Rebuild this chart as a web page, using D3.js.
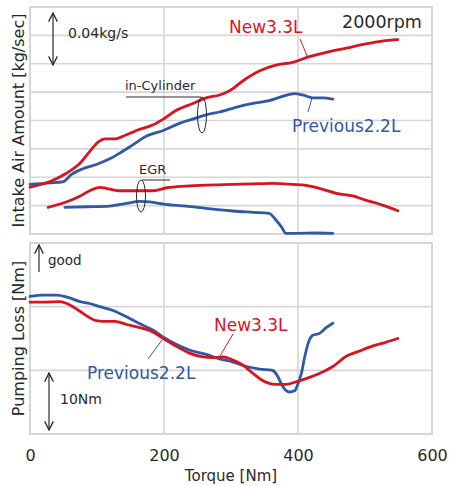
<!DOCTYPE html>
<html>
<head>
<meta charset="utf-8">
<script src="https://cdn.jsdelivr.net/npm/d3@7"></script>
<style>
	body { margin: 0; background: #fff; }
	svg { display: block; font-family: "DejaVu Sans", "Noto Sans", sans-serif; }
</style>
</head>
<body>
<div id="chart"></div>
<script>
// torque [Nm] / intake air [g/s] (grid step 20 g/s = 0.02 kg/s)
const newCylT = [0, 30, 55, 75, 89, 102, 112, 127, 144, 159, 184, 199, 218, 243, 263, 283, 298, 318, 343, 367, 392, 417, 442, 472, 501, 526, 549];
const newCylV = [33, 37, 43, 50, 58, 65, 67, 67, 70, 73, 77, 81, 87, 92, 96, 98, 101, 108, 115, 119, 121, 125, 128, 131, 134, 136, 137];

const prevCylT = [0, 30, 50, 62, 79, 99, 119, 134, 154, 174, 199, 223, 243, 263, 283, 313, 333, 357, 377, 395, 407, 422, 437, 452];
const prevCylV = [35, 36, 37, 42, 46, 49, 53, 57, 63, 69, 73, 78, 81, 84, 86, 90, 92, 94, 97, 99, 98, 96, 96, 95];

const newEgrT = [27, 55, 75, 89, 104, 114, 132, 154, 184, 204, 233, 263, 303, 333, 362, 392, 412, 432, 457, 482, 501, 526, 549];
const newEgrV = [18.8, 22.7, 26.8, 30.5, 32.9, 32.2, 30.5, 30.5, 30.5, 32.6, 33.8, 34.5, 35, 35.4, 35.7, 35, 34.3, 32.2, 28.7, 26.8, 23.9, 20.4, 16.4];

const prevEgrT = [52, 84, 119, 144, 164, 179, 199, 233, 263, 303, 333, 357, 367, 375, 382, 397, 427, 452];
const prevEgrV = [18.8, 19.2, 19.7, 21.6, 23, 22.7, 21.1, 19.7, 18.1, 16.2, 15.3, 14.6, 9.9, 5.2, 0.5, 0.5, 0.7, 0.5];

// pumping loss [Nm], relative scale
const prevPumpT = [0, 20, 40, 55, 75, 89, 104, 124, 144, 164, 184, 199, 218, 238, 263, 283, 303, 323, 343, 362, 370, 377, 387, 395, 400, 405, 410, 415, 422, 432, 442, 452];
const prevPumpV = [21.6, 21.8, 21.8, 21.5, 20.8, 20.5, 20, 19.4, 18.4, 17.3, 16.3, 15.2, 14.1, 13.2, 12.5, 11.8, 11.3, 10.6, 10.2, 10, 9, 7.5, 6.6, 6.8, 7.9, 9.5, 12.1, 14.2, 15.5, 15.8, 16.7, 17.4];

const newPumpT = [0, 20, 45, 55, 70, 84, 99, 109, 127, 144, 164, 184, 199, 218, 238, 258, 273, 288, 303, 318, 333, 347, 367, 382, 397, 412, 432, 452, 472, 491, 511, 531, 549];
const newPumpV = [20.7, 20.7, 20.8, 20.5, 19.6, 18.6, 17.8, 17.7, 17.7, 17.2, 16.7, 16, 15, 13.8, 12.7, 12.1, 12, 12.1, 11.6, 10.8, 9.5, 8.4, 7.8, 7.8, 8.2, 8.7, 9.5, 10.6, 12.2, 13, 13.8, 14.4, 15];

const xTicks = [0, 200, 400, 600];

const red = "#d7141f";
const blue = "#2f59a6";
const gridColor = "#d6d6d6";
const ink = "#2a2a2a";

const width = 449, height = 486;
const svg = d3.select("#chart").append("svg")
	.attr("width", width)
	.attr("height", height);

const x = d3.scaleLinear().domain([0, 600]).range([30, 432]);
const yTop = d3.scaleLinear().domain([0, 160]).range([234, 7]);
const yBot = d3.scaleLinear().domain([0, 30]).range([434, 243]);

function zip(t, v) {
	return t.map((d, i) => ({ t: d, v: v[i] }));
}

function panel(y, step) {
	const g = svg.append("g");
	const [y0, y1] = y.range();
	g.selectAll(".hg")
		.data(d3.range(y.domain()[0], y.domain()[1] + 0.001, step))
		.join("line")
		.attr("x1", x(0)).attr("x2", x(600))
		.attr("y1", (d) => y(d)).attr("y2", (d) => y(d))
		.attr("stroke", gridColor).attr("stroke-width", 1.6);
	g.selectAll(".vg")
		.data(xTicks)
		.join("line")
		.attr("x1", (d) => x(d)).attr("x2", (d) => x(d))
		.attr("y1", y0).attr("y2", y1)
		.attr("stroke", gridColor).attr("stroke-width", 1.6);
	g.append("rect")
		.attr("x", x(0)).attr("y", y1)
		.attr("width", x(600) - x(0)).attr("height", y0 - y1)
		.attr("fill", "none").attr("stroke", gridColor).attr("stroke-width", 2);
}

panel(yTop, 20);
panel(yBot, 10);

function drawLine(t, v, y, color) {
	const line = d3.line()
		.x((d) => x(d.t))
		.y((d) => y(d.v))
		.curve(d3.curveMonotoneX);
	svg.append("path")
		.datum(zip(t, v))
		.attr("d", line)
		.attr("fill", "none")
		.attr("stroke", color)
		.attr("stroke-width", 2.8)
		.attr("stroke-linejoin", "round")
		.attr("stroke-linecap", "round");
}

drawLine(prevEgrT, prevEgrV, yTop, blue);
drawLine(newEgrT, newEgrV, yTop, red);
drawLine(prevCylT, prevCylV, yTop, blue);
drawLine(newCylT, newCylV, yTop, red);
drawLine(prevPumpT, prevPumpV, yBot, blue);
drawLine(newPumpT, newPumpV, yBot, red);

// x axis
const xAxis = svg.append("g")
	.attr("transform", `translate(0,${yBot(0) + 16})`)
	.call(d3.axisBottom(x).tickValues(xTicks).tickSize(0).tickPadding(0));
xAxis.select(".domain").remove();
xAxis.selectAll("text")
	.attr("font-size", 16)
	.attr("font-family", "DejaVu Sans, sans-serif")
	.attr("fill", ink);

svg.append("text")
	.attr("x", (x(0) + x(600)) / 2).attr("y", 481)
	.attr("text-anchor", "middle")
	.attr("font-size", 15).attr("fill", ink)
	.text("Torque [Nm]");

// y titles
svg.append("text")
	.attr("transform", `translate(24,${(yTop(0) + yTop(160)) / 2}) rotate(-90)`)
	.attr("text-anchor", "middle")
	.attr("font-size", 16).attr("fill", ink)
	.text("Intake Air Amount [kg/sec]");
svg.append("text")
	.attr("transform", `translate(24,${(yBot(0) + yBot(30)) / 2}) rotate(-90)`)
	.attr("text-anchor", "middle")
	.attr("font-size", 16).attr("fill", ink)
	.text("Pumping Loss [Nm]");

// annotations
function label(px, py, txt, color, size) {
	svg.append("text")
		.attr("x", px).attr("y", py)
		.attr("font-size", size).attr("fill", color)
		.text(txt);
}
function seg(x1, y1, x2, y2, color, w = 1) {
	svg.append("line")
		.attr("x1", x1).attr("y1", y1).attr("x2", x2).attr("y2", y2)
		.attr("stroke", color).attr("stroke-width", w);
}

svg.append("defs").append("marker")
	.attr("id", "head")
	.attr("viewBox", "0 0 10 10")
	.attr("refX", 9).attr("refY", 5)
	.attr("markerWidth", 9).attr("markerHeight", 9)
	.attr("orient", "auto-start-reverse")
	.append("path")
	.attr("d", "M1,1 L9,5 L1,9")
	.attr("fill", "none").attr("stroke", ink).attr("stroke-width", 1.2);

function arrow(px, y1, y2, both) {
	svg.append("line")
		.attr("x1", px).attr("y1", y1).attr("x2", px).attr("y2", y2)
		.attr("stroke", ink).attr("stroke-width", 1.2)
		.attr("marker-end", "url(#head)")
		.attr("marker-start", both ? "url(#head)" : null);
}

label(342, 28, "2000rpm", ink, 17.5);
arrow(53, 65, 13, true);
label(68, 38, "0.04kg/s", ink, 14);

label(229, 33, "New3.3L", red, 17);
seg(300, 39, 308, 58, red);
label(292, 132, "Previous2.2L", blue, 17);
seg(312, 98, 308, 112, blue);

label(125, 90, "in-Cylinder", ink, 13);
seg(126, 97, 201, 97, ink);
svg.append("ellipse")
	.attr("cx", 202).attr("cy", 115).attr("rx", 4.5).attr("ry", 18)
	.attr("fill", "none").attr("stroke", ink).attr("stroke-width", 1);

label(139, 174, "EGR", ink, 13);
seg(142, 180, 170, 180, ink);
svg.append("ellipse")
	.attr("cx", 141).attr("cy", 196).attr("rx", 4.5).attr("ry", 16)
	.attr("fill", "none").attr("stroke", ink).attr("stroke-width", 1);

arrow(39, 272, 245, false);
label(48, 265, "good", ink, 13.5);
arrow(49, 430, 373, true);
label(60, 404, "10Nm", ink, 14);

label(214, 331, "New3.3L", red, 17);
seg(233, 334, 220, 356, red);
label(87, 379, "Previous2.2L", blue, 17);
seg(148, 359, 162, 340, blue);
</script>
</body>
</html>
